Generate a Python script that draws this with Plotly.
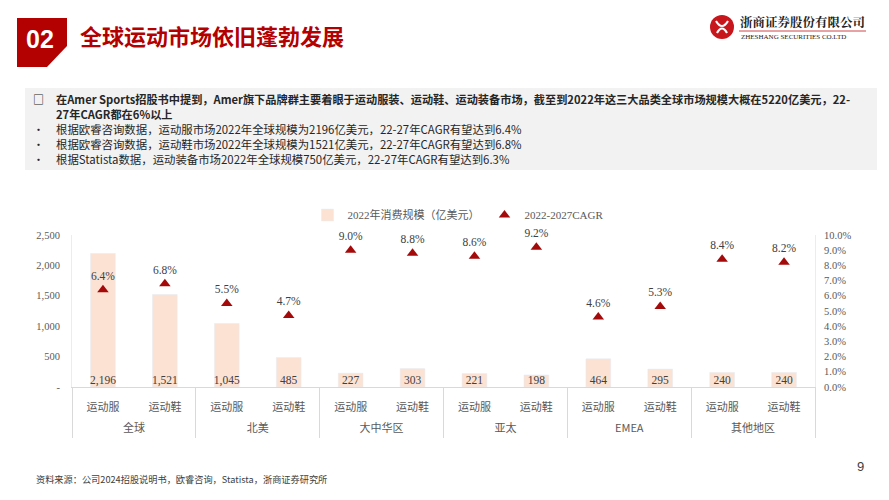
import plotly.graph_objects as go

# ---------------- data ----------------
regions = ["全球", "北美", "大中华区", "亚太", "EMEA", "其他地区"]
products = ["运动服", "运动鞋"]
market_size = [2196, 1521, 1045, 485, 227, 303, 221, 198, 464, 295, 240, 240]  # 亿美元
cagr = [6.4, 6.8, 5.5, 4.7, 9.0, 8.8, 8.6, 9.2, 4.6, 5.3, 8.4, 8.2]  # %
left_tickvals = [0, 500, 1000, 1500, 2000, 2500]
left_ticktext = ["-", "500", "1,000", "1,500", "2,000", "2,500"]
right_tickvals = [0, 1, 2, 3, 4, 5, 6, 7, 8, 9, 10]
bar_name = "2022年消费规模（亿美元）"
cagr_name = "2022-2027CAGR"

# ---------------- layout geometry (page pixel coords) ----------------
OFF = 8                      # browser body margin
W, H = 889 - OFF, 500 - OFF
L, R, T, B = 72, 815, 235, 387   # plot area in page pixels


def px(x):
    return (x - L) / (R - L)


def py(y):
    return (B - y) / (B - T)


n_prod = len(products)
xs = list(range(len(market_size)))
inner_labels = [products[i % n_prod] for i in xs]
group_centers = [g * n_prod + (n_prod - 1) / 2 for g in range(len(regions))]
xrange = [-0.5, len(market_size) - 0.5]

SERIF = "Times New Roman, Liberation Serif, Noto Sans CJK SC, serif"
CJK = "Noto Sans CJK SC, Microsoft YaHei, sans-serif"
GREY = "#595959"
BAR = "#fbe2d3"
RED = "#a50a0a"

fig = go.Figure()
fig.add_trace(go.Bar(
    x=xs, y=market_size, name=bar_name, marker_color=BAR, width=0.4,
    hoverinfo="skip",
))
fig.add_trace(go.Scatter(
    x=xs, y=[0] * len(market_size), mode="text",
    text=[f"{v:,}" for v in market_size], textposition="top center",
    textfont=dict(family=SERIF, size=11.5, color="#404040"),
    showlegend=False, hoverinfo="skip", cliponaxis=False,
))
fig.add_trace(go.Scatter(
    x=xs, y=cagr, name=cagr_name, yaxis="y2", mode="markers+text",
    marker=dict(symbol="triangle-up", size=10, color=RED),
    text=[f"{v:.1f}%" for v in cagr], textposition="top center",
    textfont=dict(family=SERIF, size=11.5, color="#404040"),
    hoverinfo="skip", cliponaxis=False,
))
# invisible trace to activate the group-label axis
fig.add_trace(go.Scatter(
    x=group_centers, y=[None] * len(group_centers), xaxis="x2", mode="markers",
    showlegend=False, hoverinfo="skip",
))

shapes = []
annotations = []

# header "02" box
shapes.append(dict(
    type="path", xref="paper", yref="paper",
    path=f"M {px(17)},{py(18)} L {px(67)},{py(18)} L {px(67)},{py(46)} "
         f"L {px(47)},{py(67)} L {px(17)},{py(67)} Z",
    fillcolor="#b30000", line=dict(width=0), layer="above",
))
annotations.append(dict(
    x=px(40), y=py(39), xref="paper", yref="paper", text="<b>02</b>",
    showarrow=False, font=dict(family="Arial, Liberation Sans, sans-serif", size=25, color="white"),
    xanchor="center", yanchor="middle",
))
annotations.append(dict(
    x=px(78), y=py(35), xref="paper", yref="paper", text="<b>全球运动市场依旧蓬勃发展</b>",
    showarrow=False, font=dict(family=CJK, size=22, color="#b30000"),
    xanchor="left", yanchor="middle",
))

# logo
shapes.append(dict(type="circle", xref="paper", yref="paper",
                   x0=px(710), x1=px(734), y0=py(39), y1=py(15),
                   fillcolor="#c8161d", line=dict(width=0)))
shapes.append(dict(type="path", xref="paper", yref="paper",
                   path=f"M {px(716)},{py(21)} Q {px(722)},{py(31)} {px(728)},{py(21)} "
                        f"M {px(717)},{py(33)} Q {px(722)},{py(24)} {px(727)},{py(33)}",
                   line=dict(color="white", width=2.2)))
annotations.append(dict(
    x=px(738), y=py(22), xref="paper", yref="paper", text="<b>浙商证券股份有限公司</b>",
    showarrow=False, font=dict(family="Noto Serif CJK SC, " + CJK, size=12.5, color="#222222"),
    xanchor="left", yanchor="middle",
))
shapes.append(dict(type="line", xref="paper", yref="paper",
                   x0=px(739), x1=px(866), y0=py(31), y1=py(31),
                   line=dict(color="#c8161d", width=0.8)))
annotations.append(dict(
    x=px(739), y=py(36.5), xref="paper", yref="paper", text="ZHESHANG SECURITIES CO.LTD",
    showarrow=False, font=dict(family=SERIF, size=7, color="#222222"),
    xanchor="left", yanchor="middle",
))

# grey text box
shapes.append(dict(type="rect", xref="paper", yref="paper",
                   x0=px(25), x1=px(877), y0=py(170), y1=py(88),
                   fillcolor="#f2f2f2", line=dict(width=0), layer="below"))
annotations.append(dict(
    x=px(31), y=py(99), xref="paper", yref="paper", text="<b>□</b>",
    showarrow=False, font=dict(family=CJK, size=11, color="#262626"),
    xanchor="left", yanchor="middle",
))
annotations.append(dict(
    x=px(54), y=py(106), xref="paper", yref="paper",
    text="<b>在Amer Sports招股书中提到，Amer旗下品牌群主要着眼于运动服装、运动鞋、运动装备市场，截至到2022年这三大品类全球市场规模大概在5220亿美元，22-"
         "<br>27年CAGR都在6%以上</b>",
    showarrow=False, font=dict(family=CJK, size=11.2, color="#262626"),
    xanchor="left", yanchor="middle", align="left",
))
bullets = [
    (129, "根据欧睿咨询数据，运动服市场2022年全球规模为2196亿美元，22-27年CAGR有望达到6.4%"),
    (144, "根据欧睿咨询数据，运动鞋市场2022年全球规模为1521亿美元，22-27年CAGR有望达到6.8%"),
    (159, "根据Statista数据，运动装备市场2022年全球规模750亿美元，22-27年CAGR有望达到6.3%"),
]
for y, txt in bullets:
    annotations.append(dict(
        x=px(31), y=py(y), xref="paper", yref="paper", text="•",
        showarrow=False, font=dict(family=CJK, size=11, color="#262626"),
        xanchor="left", yanchor="middle",
    ))
    annotations.append(dict(
        x=px(54), y=py(y), xref="paper", yref="paper", text=txt,
        showarrow=False, font=dict(family=CJK, size=11.4, color="#262626"),
        xanchor="left", yanchor="middle",
    ))

# footer
annotations.append(dict(
    x=px(34), y=py(479), xref="paper", yref="paper",
    text="资料来源：公司2024招股说明书，欧睿咨询，Statista，浙商证券研究所",
    showarrow=False, font=dict(family=CJK, size=9.2, color="#404040"),
    xanchor="left", yanchor="middle",
))
annotations.append(dict(
    x=px(866), y=py(466), xref="paper", yref="paper", text="9",
    showarrow=False, font=dict(family="Arial, Liberation Sans, sans-serif", size=13, color="#404040"),
    xanchor="right", yanchor="middle",
))

fig.update_layout(
    width=W, height=H,
    margin=dict(l=L - OFF, r=(OFF + W) - R, t=T - OFF, b=(OFF + H) - B, pad=0),
    paper_bgcolor="white", plot_bgcolor="white",
    showlegend=True,
    legend=dict(orientation="h", x=px(458), xanchor="center", y=py(215), yanchor="middle",
                font=dict(family=SERIF, size=11, color=GREY), traceorder="normal",
                itemwidth=30, bgcolor="rgba(0,0,0,0)"),
    bargap=0.6,
    xaxis=dict(range=xrange, tickvals=xs, ticktext=inner_labels,
               showline=True, linecolor="#d9d9d9", linewidth=1,
               showgrid=False, zeroline=False, ticks="", ticklabelstandoff=10,
               tickfont=dict(family=CJK, size=11, color=GREY),
               minor=dict(ticks="outside", tick0=-0.5, dtick=n_prod, ticklen=50,
                          tickcolor="#d9d9d9", tickwidth=1, showgrid=False)),
    xaxis2=dict(range=xrange, overlaying="x", side="bottom", anchor="y",
                tickvals=group_centers, ticktext=regions,
                showline=False, showgrid=False, zeroline=False, ticks="",
                ticklabelstandoff=33,
                tickfont=dict(family=CJK, size=11, color=GREY)),
    yaxis=dict(range=[0, 2500], tickvals=left_tickvals, ticktext=left_ticktext,
               showgrid=False, zeroline=False, showline=True, linecolor="#ececec",
               ticks="", ticklabelstandoff=9,
               tickfont=dict(family=SERIF, size=10.5, color=GREY)),
    yaxis2=dict(range=[0, 10], overlaying="y", side="right", tickvals=right_tickvals,
                ticktext=[f"{v:.1f}%" for v in right_tickvals],
                showgrid=False, zeroline=False, showline=True, linecolor="#ececec",
                ticks="", ticklabelstandoff=6,
                tickfont=dict(family=SERIF, size=10.5, color=GREY)),
    shapes=shapes, annotations=annotations,
)

fig.write_html("out.html")
